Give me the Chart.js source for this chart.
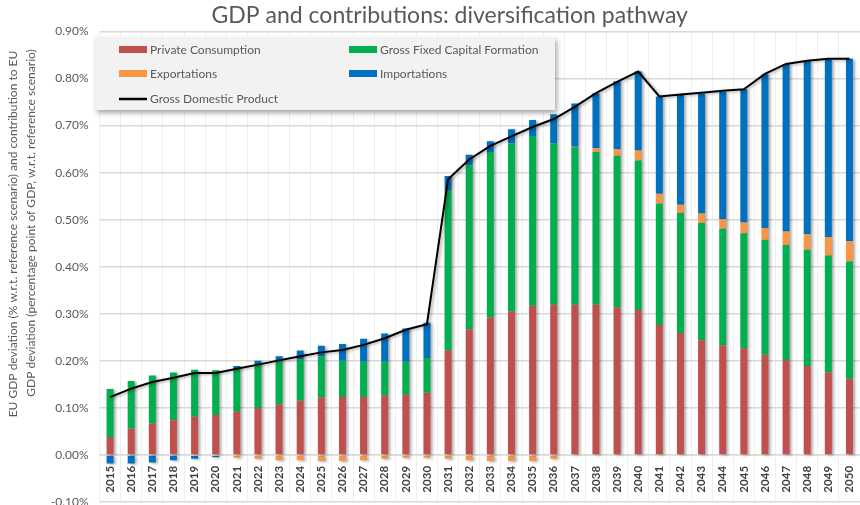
<!DOCTYPE html>
<html>
<head>
<meta charset="utf-8">
<title>GDP and contributions: diversification pathway</title>
<script src="https://cdn.jsdelivr.net/npm/chart.js@4.4.1/dist/chart.umd.min.js"></script>
<style>
  html, body { margin: 0; padding: 0; background: #fff; overflow: hidden; }
  /* canvas is a bit taller than the window so the -0.10% row gets cut like in the original */
  #wrap { position: relative; width: 860px; height: 522px; }
</style>
</head>
<body>
<div id="wrap"><canvas id="gdpChart"></canvas></div>
<script>
// categories (years)
const years = ['2015', '2016', '2017', '2018', '2019', '2020', '2021', '2022', '2023', '2024',
  '2025', '2026', '2027', '2028', '2029', '2030', '2031', '2032', '2033', '2034',
  '2035', '2036', '2037', '2038', '2039', '2040', '2041', '2042', '2043', '2044',
  '2045', '2046', '2047', '2048', '2049', '2050'];

// contributions, percentage point of GDP
const privateConsumption = [0.038, 0.056, 0.067, 0.074, 0.081, 0.085, 0.092, 0.100, 0.108, 0.115,
  0.122, 0.123, 0.123, 0.126, 0.128, 0.132, 0.222, 0.267, 0.292, 0.305,
  0.317, 0.319, 0.319, 0.319, 0.314, 0.308, 0.276, 0.259, 0.244, 0.233,
  0.227, 0.213, 0.202, 0.189, 0.175, 0.162];
const grossFixedCapital = [0.102, 0.101, 0.102, 0.101, 0.100, 0.095, 0.092, 0.093, 0.092, 0.088,
  0.087, 0.077, 0.075, 0.072, 0.070, 0.074, 0.340, 0.348, 0.352, 0.357,
  0.361, 0.343, 0.335, 0.325, 0.322, 0.318, 0.258, 0.255, 0.249, 0.248,
  0.244, 0.244, 0.244, 0.247, 0.249, 0.249];
const exportations = [0, 0, 0, 0, -0.002, -0.002, -0.006, -0.008, -0.011, -0.011,
  -0.013, -0.013, -0.011, -0.008, -0.006, -0.006, -0.008, -0.011, -0.013, -0.013,
  -0.013, -0.008, 0.001, 0.008, 0.014, 0.021, 0.021, 0.018, 0.020, 0.020,
  0.023, 0.025, 0.029, 0.033, 0.039, 0.043];
const importations = [-0.018, -0.018, -0.016, -0.011, -0.006, -0.003, 0.005, 0.007, 0.010, 0.019,
  0.023, 0.036, 0.049, 0.060, 0.071, 0.075, 0.031, 0.023, 0.023, 0.030,
  0.034, 0.062, 0.092, 0.117, 0.144, 0.168, 0.207, 0.233, 0.255, 0.271,
  0.283, 0.327, 0.356, 0.368, 0.378, 0.388];

// EU GDP deviation, % w.r.t. reference scenario
const gdp = [0.123, 0.141, 0.155, 0.164, 0.174, 0.174, 0.183, 0.192, 0.201, 0.210,
  0.218, 0.223, 0.234, 0.248, 0.266, 0.278, 0.586, 0.628, 0.657, 0.677,
  0.697, 0.714, 0.740, 0.769, 0.793, 0.815, 0.762, 0.766, 0.770, 0.774,
  0.777, 0.810, 0.831, 0.838, 0.842, 0.842];

// y axis range and ticks
const yMin = -0.1;
const yMax = 0.9;
const yStep = 0.1;

const yTitleLines = [
  'EU GDP deviation (% w.r.t. reference scenario) and contribution to EU',
  'GDP deviation (percentage point of GDP, w.r.t. reference scenario)'
];

const FONT = 'Lato, "Open Sans", sans-serif';
const GREY = '#595959';

// shadows, axis title and the boxed legend (Excel style)
const excelLook = {
  id: 'excelLook',
  beforeDatasetDraw(chart) {
    const ctx = chart.ctx;
    ctx.save();
    ctx.shadowColor = 'rgba(0,0,0,0.35)';
    ctx.shadowBlur = 3;
    ctx.shadowOffsetX = 2;
    ctx.shadowOffsetY = 1;
  },
  afterDatasetDraw(chart) {
    chart.ctx.restore();
  },
  afterDraw(chart) {
    const ctx = chart.ctx;

    // y axis title, two rotated lines
    ctx.save();
    ctx.fillStyle = GREY;
    ctx.font = '12px ' + FONT;
    ctx.textAlign = 'center';
    ctx.textBaseline = 'middle';
    const titlePos = [[13.5, 234], [31.5, 223]];
    yTitleLines.forEach((line, i) => {
      ctx.save();
      ctx.translate(titlePos[i][0], titlePos[i][1]);
      ctx.rotate(-Math.PI / 2);
      ctx.fillText(line, 0, 0);
      ctx.restore();
    });
    ctx.restore();

    // legend box
    ctx.save();
    ctx.shadowColor = 'rgba(0,0,0,0.35)';
    ctx.shadowBlur = 5;
    ctx.shadowOffsetX = 2;
    ctx.shadowOffsetY = 3;
    ctx.fillStyle = '#f2f2f2';
    ctx.fillRect(95, 37, 460, 73);
    ctx.restore();

    const slots = [[119, 49.5], [349, 49.5], [119, 73.5], [349, 73.5], [119, 99]];
    ctx.save();
    ctx.font = '12px ' + FONT;
    ctx.textBaseline = 'middle';
    ctx.textAlign = 'left';
    chart.data.datasets.forEach((ds, i) => {
      const [x, y] = slots[i];
      if (ds.type === 'line') {
        ctx.strokeStyle = ds.borderColor;
        ctx.lineWidth = 2.5;
        ctx.beginPath();
        ctx.moveTo(x, y);
        ctx.lineTo(x + 28, y);
        ctx.stroke();
      } else {
        ctx.fillStyle = ds.backgroundColor;
        ctx.fillRect(x, y - 3.5, 28, 7);
      }
      ctx.fillStyle = GREY;
      ctx.fillText(ds.label, x + 31, y + 0.5);
    });
    ctx.restore();
  }
};

function drawChart() {
  const ctx = document.getElementById('gdpChart').getContext('2d');

  const barStyle = { type: 'bar', barPercentage: 0.33, categoryPercentage: 1, order: 1 };

  new Chart(ctx, {
    data: {
      labels: years,
      datasets: [
        { ...barStyle, label: 'Private Consumption', data: privateConsumption, backgroundColor: '#C0504D' },
        { ...barStyle, label: 'Gross Fixed Capital Formation', data: grossFixedCapital, backgroundColor: '#00B050' },
        { ...barStyle, label: 'Exportations', data: exportations, backgroundColor: '#F79646' },
        { ...barStyle, label: 'Importations', data: importations, backgroundColor: '#0070C0' },
        {
          type: 'line',
          label: 'Gross Domestic Product',
          data: gdp,
          borderColor: '#000000',
          borderWidth: 2,
          pointRadius: 0,
          tension: 0,
          fill: false,
          stack: 'gdp',
          order: 0
        }
      ]
    },
    options: {
      responsive: true,
      maintainAspectRatio: false,
      animation: false,
      layout: { padding: { left: 39.5, right: 0, top: 0, bottom: 20 } },
      plugins: {
        legend: { display: false },
        tooltip: { enabled: false },
        title: {
          display: true,
          text: 'GDP and contributions: diversification pathway',
          color: GREY,
          font: { family: FONT, size: 23, weight: 'normal' },
          padding: { top: 1.5, bottom: 2.4 }
        }
      },
      scales: {
        x: {
          stacked: true,
          position: { y: 0 },
          // the axis sits on the zero line, so it takes no room of its own
          afterFit: (scale) => {
            scale.height = 0;
            scale.paddingLeft = 0;
            scale.paddingRight = 0;
          },
          grid: { color: '#efefef', lineWidth: 1, drawTicks: false },
          border: { display: true, color: '#d9d9d9', width: 1.5 },
          ticks: {
            color: '#404040',
            font: { family: FONT, size: 11.5, weight: 'bold' },
            minRotation: 90,
            maxRotation: 90,
            autoSkip: false,
            padding: 11
          }
        },
        y: {
          stacked: true,
          min: yMin,
          max: yMax,
          afterFit: (scale) => { scale.width = 60; },
          grid: { color: '#d9d9d9', lineWidth: 1.5, drawTicks: false },
          border: { display: false },
          ticks: {
            stepSize: yStep,
            color: GREY,
            font: { family: FONT, size: 12 },
            padding: 11,
            callback: (v) => v.toFixed(2) + '%'
          }
        }
      }
    },
    plugins: [excelLook]
  });
}

window.onload = drawChart;
</script>
</body>
</html>
